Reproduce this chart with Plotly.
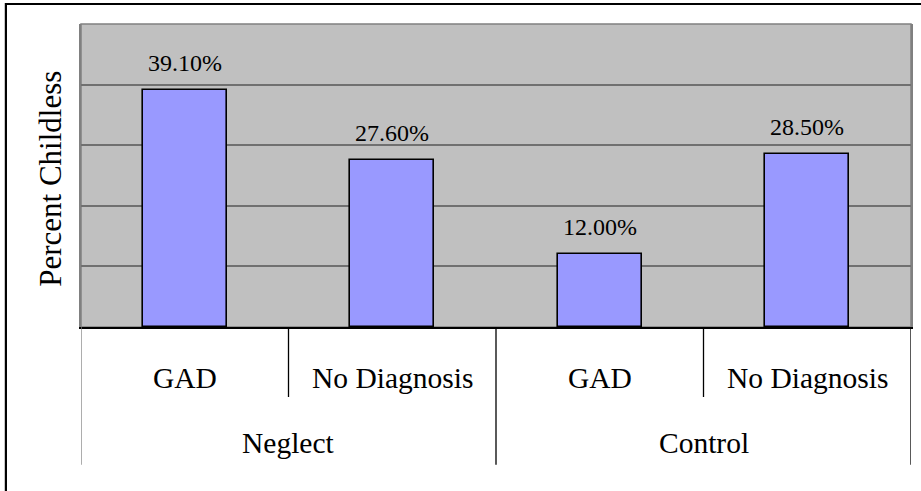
import plotly.graph_objects as go

# Percent childless by maltreatment group and diagnosis
groups = ["Neglect", "Neglect", "Control", "Control"]
diagnoses = ["GAD", "No Diagnosis", "GAD", "No Diagnosis"]
percent_childless = [39.1, 27.6, 12.0, 28.5]
group_names = ["Neglect", "Control"]

SERIF = "Liberation Serif, Times New Roman, serif"
keys = [f"{g}|{d}" for g, d in zip(groups, diagnoses)]

fig = go.Figure(
    go.Bar(
        x=keys,
        y=percent_childless,
        width=0.404,
        marker=dict(color="#9999FF", line=dict(color="#000000", width=1.6)),
        hoverinfo="skip",
    )
)

# value labels above each bar
for k, v in zip(keys, percent_childless):
    fig.add_annotation(
        x=k, y=v, xref="x", yref="y", text=f"{v:.2f}%",
        showarrow=False, yanchor="middle", yshift=27,
        font=dict(family=SERIF, size=24, color="#000000"),
    )

# first-level category labels
for k, d in zip(keys, diagnoses):
    fig.add_annotation(
        x=k, y=-0.168, xref="x", yref="paper", text=d,
        showarrow=False, yanchor="middle",
        font=dict(family=SERIF, size=29.5, color="#000000"),
    )

# second-level group labels, centred under their members
for g in group_names:
    idx = [i for i, gg in enumerate(groups) if gg == g]
    fig.add_annotation(
        x=(idx[0] + idx[-1]) / 2, y=-0.383, xref="x", yref="paper", text=g,
        showarrow=False, yanchor="middle",
        font=dict(family=SERIF, size=29.5, color="#000000"),
    )

# divider lines between categories
n = len(keys)
for i in range(n + 1):
    pos = i - 0.5
    outer = i == 0 or i == n or groups[i - 1] != groups[i]
    fig.add_shape(
        type="line", xref="x", yref="paper",
        x0=pos, x1=pos, y0=0, y1=-0.455 if outer else -0.231,
        line=dict(color="#808080" if i == 0 else "#000000", width=1.3),
    )

# outer chart frame
fig.add_shape(
    type="rect", xref="paper", yref="paper",
    x0=-0.0905, x1=1.05, y0=-0.7, y1=1.066,
    line=dict(color="#000000", width=2.2), layer="above",
)

fig.add_annotation(
    x=-0.037, y=0.49, xref="paper", yref="paper", text="Percent Childless",
    textangle=-90, showarrow=False, xanchor="center", yanchor="middle",
    font=dict(family=SERIF, size=31, color="#000000"),
)

fig.update_layout(
    width=921, height=491,
    margin=dict(l=81, r=8, t=24, b=164),
    paper_bgcolor="#FFFFFF",
    plot_bgcolor="#C0C0C0",
    showlegend=False,
    bargap=0,
)
fig.update_xaxes(
    type="category", range=[-0.5, n - 0.5], showticklabels=False,
    showgrid=False, showline=True, linecolor="#000000", linewidth=1.5,
    ticks="", mirror=False, zeroline=False,
)
fig.update_yaxes(
    range=[0, 50], dtick=10, showticklabels=False, ticks="",
    showgrid=True, gridcolor="#707070", gridwidth=1.5,
    showline=True, linecolor="#808080", linewidth=1.5, mirror=True,
    zeroline=False,
)
# plot-area border on the top and right
fig.add_shape(
    type="rect", xref="paper", yref="paper", x0=0, x1=1, y0=0, y1=1,
    line=dict(color="#808080", width=1.5), layer="below",
)

fig.write_html("out.html")
